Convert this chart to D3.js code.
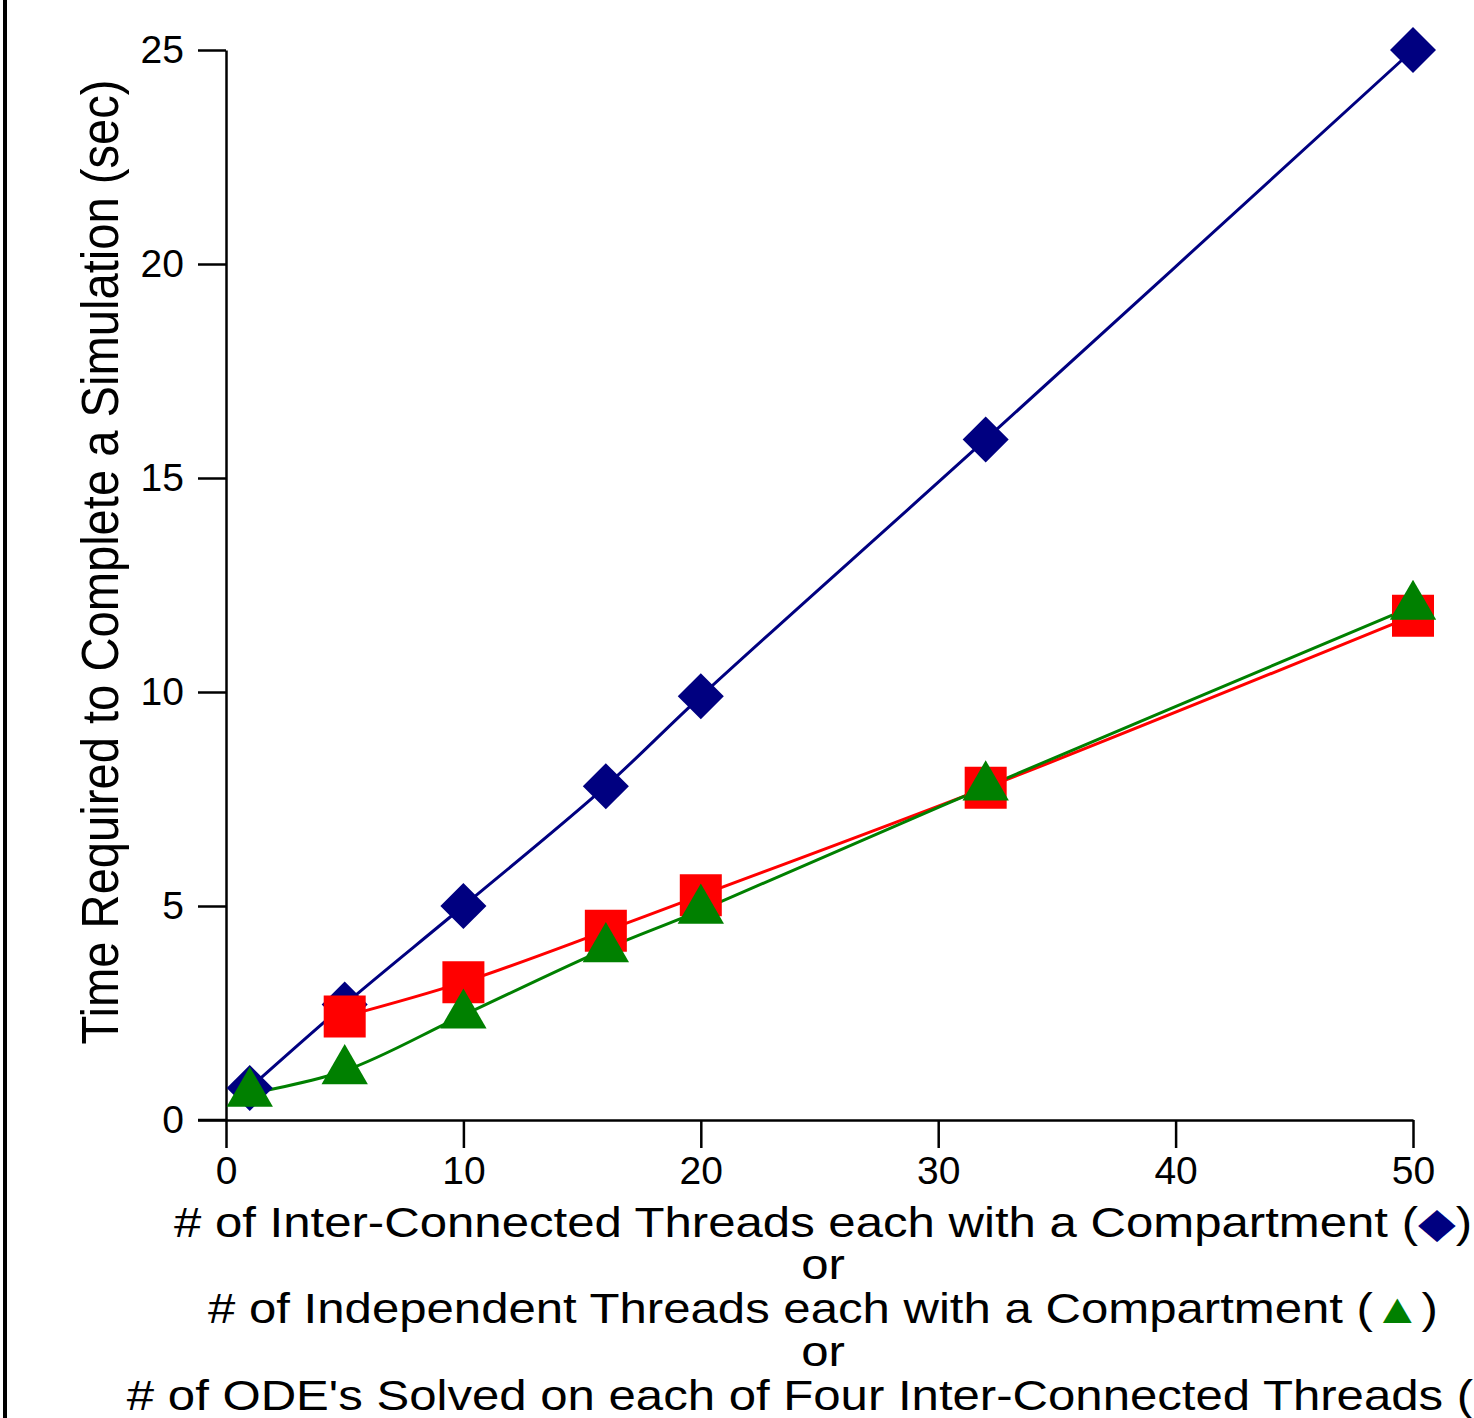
<!DOCTYPE html>
<html>
<head>
<meta charset="utf-8">
<script src="https://cdn.jsdelivr.net/npm/d3@7"></script>
<style>
  body { margin: 0; background: #fff; }
  svg { display: block; font-family: "Liberation Sans", Arial, sans-serif; }
</style>
</head>
<body>
<div id="chart"></div>
<script>
// data
var xTicks = [0, 10, 20, 30, 40, 50];
var yTicks = [0, 5, 10, 15, 20, 25];

var interX = [1, 5, 10, 16, 20, 32, 50];
var interY = [0.75, 2.7, 5.0, 7.8, 9.9, 15.9, 25.0];

var odeX = [5, 10, 16, 20, 32, 50];
var odeY = [2.42, 3.22, 4.42, 5.25, 7.76, 11.78];

var indepX = [1, 5, 10, 16, 20, 32, 50];
var indepY = [0.62, 1.15, 2.45, 4.0, 4.9, 7.78, 12.0];

var W = 1474, H = 1418;

var svg = d3.select("#chart").append("svg")
  .attr("width", W)
  .attr("height", H);

// left page border
svg.append("line")
  .attr("x1", 5).attr("x2", 5)
  .attr("y1", 0).attr("y2", H)
  .attr("stroke", "#000")
  .attr("stroke-width", 4);

var x = d3.scaleLinear().domain([0, 50]).range([226, 1413]);
var y = d3.scaleLinear().domain([0, 25]).range([1120, 50]);

// axes
var xAxis = svg.append("g")
  .attr("transform", "translate(0," + y(0) + ")")
  .call(d3.axisBottom(x).tickValues(xTicks).tickSize(28).tickSizeOuter(0).tickPadding(8));

var yAxis = svg.append("g")
  .attr("transform", "translate(" + x(0) + ",0)")
  .call(d3.axisLeft(y).tickValues(yTicks).tickSize(28).tickSizeOuter(0).tickPadding(14));

[xAxis, yAxis].forEach(function(a) {
  a.selectAll("path, line").attr("stroke", "#000").attr("stroke-width", 2.5);
  a.selectAll("text")
    .attr("fill", "#000")
    .style("font-family", "Liberation Sans, Arial, sans-serif")
    .style("font-size", "39px");
});

// x axis line stretches left to the end of the y ticks
svg.append("line")
  .attr("x1", x(0) - 28).attr("x2", x(0))
  .attr("y1", y(0)).attr("y2", y(0))
  .attr("stroke", "#000").attr("stroke-width", 2.5);

// series
var series = [
  {xs: interX, ys: interY, color: "#000080", symbol: d3.symbolSquare, size: 1060, rot: 45},
  {xs: odeX, ys: odeY, color: "#ff0000", symbol: d3.symbolSquare, size: 1764, rot: 0},
  {xs: indepX, ys: indepY, color: "#008000", symbol: d3.symbolTriangle, size: 930, rot: 0}
];

var line = d3.line()
  .x(function(d) { return x(d[0]); })
  .y(function(d) { return y(d[1]); })
  .curve(d3.curveCatmullRom.alpha(0.5));

series.forEach(function(s) {
  var pts = s.xs.map(function(v, i) { return [v, s.ys[i]]; });
  svg.append("path")
    .datum(pts)
    .attr("fill", "none")
    .attr("stroke", s.color)
    .attr("stroke-width", 3)
    .attr("d", line);
});

series.forEach(function(s) {
  var pts = s.xs.map(function(v, i) { return [v, s.ys[i]]; });
  svg.append("g").selectAll("path")
    .data(pts)
    .enter().append("path")
      .attr("transform", function(d) {
        return "translate(" + x(d[0]) + "," + y(d[1]) + ") rotate(" + s.rot + ")";
      })
      .attr("d", d3.symbol().type(s.symbol).size(s.size))
      .attr("fill", s.color);
});

// y axis title
svg.append("text")
  .attr("transform", "translate(118,562) rotate(-90)")
  .attr("text-anchor", "middle")
  .attr("textLength", 965)
  .attr("lengthAdjust", "spacingAndGlyphs")
  .style("font-size", "51px")
  .text("Time Required to Complete a Simulation (sec)");

// x axis title, five lines (the original font is drawn a bit wide)
var xTitle = [
  {t: "# of Inter-Connected Threads each with a Compartment (", m: "\u25C6", c: "#000080", y: 1237},
  {t: "or", y: 1279},
  {t: "# of Independent Threads each with a Compartment (", m: "\u25B2", c: "#008000", y: 1323},
  {t: "or", y: 1366},
  {t: "# of ODE's Solved on each of Four Inter-Connected Threads (", m: "\u25A0", c: "#ff0000", y: 1410}
];

var xt = svg.append("g")
  .attr("transform", "translate(823,0) scale(1.17,1)");

xTitle.forEach(function(l) {
  var tx = xt.append("text")
    .attr("x", 0)
    .attr("y", l.y)
    .attr("text-anchor", "middle")
    .style("font-size", "42px");
  tx.append("tspan").text(l.t);
  if (l.m) {
    tx.append("tspan").attr("fill", l.c).text(l.m);
    tx.append("tspan").text(")");
  }
});
</script>
</body>
</html>
